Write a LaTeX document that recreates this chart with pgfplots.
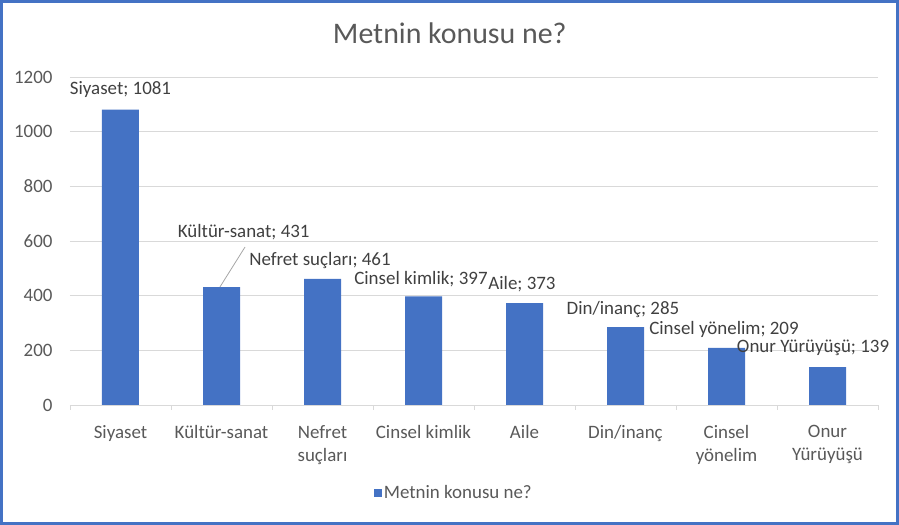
\documentclass[border=0pt]{standalone}
\usepackage{fontspec}
\setmainfont{Carlito}
\usepackage{pgfplots}
\pgfplotsset{compat=1.18}
\definecolor{barblue}{HTML}{4472C4}
\definecolor{gridgray}{HTML}{D9D9D9}
\definecolor{ticktext}{HTML}{595959}
\definecolor{labeltext}{HTML}{404040}

\begin{document}
\begin{tikzpicture}[x=1bp,y=1bp]
  % outer chart frame
  \draw[barblue, line width=3bp] (-68.5,-118.5) rectangle (827.5,403.5);
  \begin{axis}[
      at={(0,0)}, anchor=south west,
      scale only axis,
      width=808bp, height=328bp,
      xmin=-0.5, xmax=7.5,
      ymin=0, ymax=1200,
      ytick={0,200,...,1200},
      xtick={0,...,7},
      xticklabels={Siyaset, Kültür-sanat, {Nefret\\suçları}, Cinsel kimlik, Aile, Din/inanç, {Cinsel\\yönelim}, {Onur\\Yürüyüşü}},
      minor xtick={-0.5,0.5,...,7.5},
      major tick length=0pt,
      minor tick length=5bp,
      tick align=outside,
      tick style={gridgray, line width=0.8bp},
      axis x line*=bottom,
      axis y line*=left,
      y axis line style={draw=none},
      x axis line style={gridgray, line width=0.8bp, -},
      ymajorgrids,
      grid style={gridgray, line width=0.8bp},
      /pgf/number format/assume math mode=true,
      /pgf/number format/1000 sep={},
      ticklabel style={font=\fontsize{19}{23}\selectfont, text=ticktext},
      xticklabel style={align=center, yshift=-17bp},
      yticklabel style={xshift=-14bp},
      ybar, bar width=37bp,
      title={Metnin konusu ne?},
      title style={font=\fontsize{30}{34}\selectfont, text=ticktext, at={(0.470,1)}, yshift=24bp},
      legend style={draw=none, at={(0.475,-0.268)}, anchor=center,
                    font=\fontsize{19}{23}\selectfont, text=ticktext},
      legend image code/.code={\fill[barblue] (0bp,-4bp) rectangle (8bp,4bp);},
      clip=false,
    ]
    \addplot[fill=barblue, draw=none] coordinates {
      (0,1081) (1,431) (2,461) (3,397) (4,373) (5,285) (6,209) (7,139)
    };
    \addlegendentry{Metnin konusu ne?}
    \begin{scope}[every node/.style={font=\fontsize{19}{23}\selectfont, text=labeltext, inner sep=0pt}]
      \node at (axis cs:0,1156) {Siyaset; 1081};
      \draw[gray!70, line width=0.8bp] (axis cs:1.233,578) -- (axis cs:0.985,432);
      \node at (axis cs:1.22,633) {Kültür-sanat; 431};
      \node at (axis cs:1.975,530) {Nefret suçları; 461};
      \node at (axis cs:2.975,461) {Cinsel kimlik; 397};
      \node at (axis cs:3.975,443) {Aile; 373};
      \node at (axis cs:4.975,351) {Din/inanç; 285};
      \node at (axis cs:5.975,278) {Cinsel yönelim; 209};
      \node at (axis cs:6.857,209) {Onur Yürüyüşü; 139};
    \end{scope}
  \end{axis}
\end{tikzpicture}
\end{document}
